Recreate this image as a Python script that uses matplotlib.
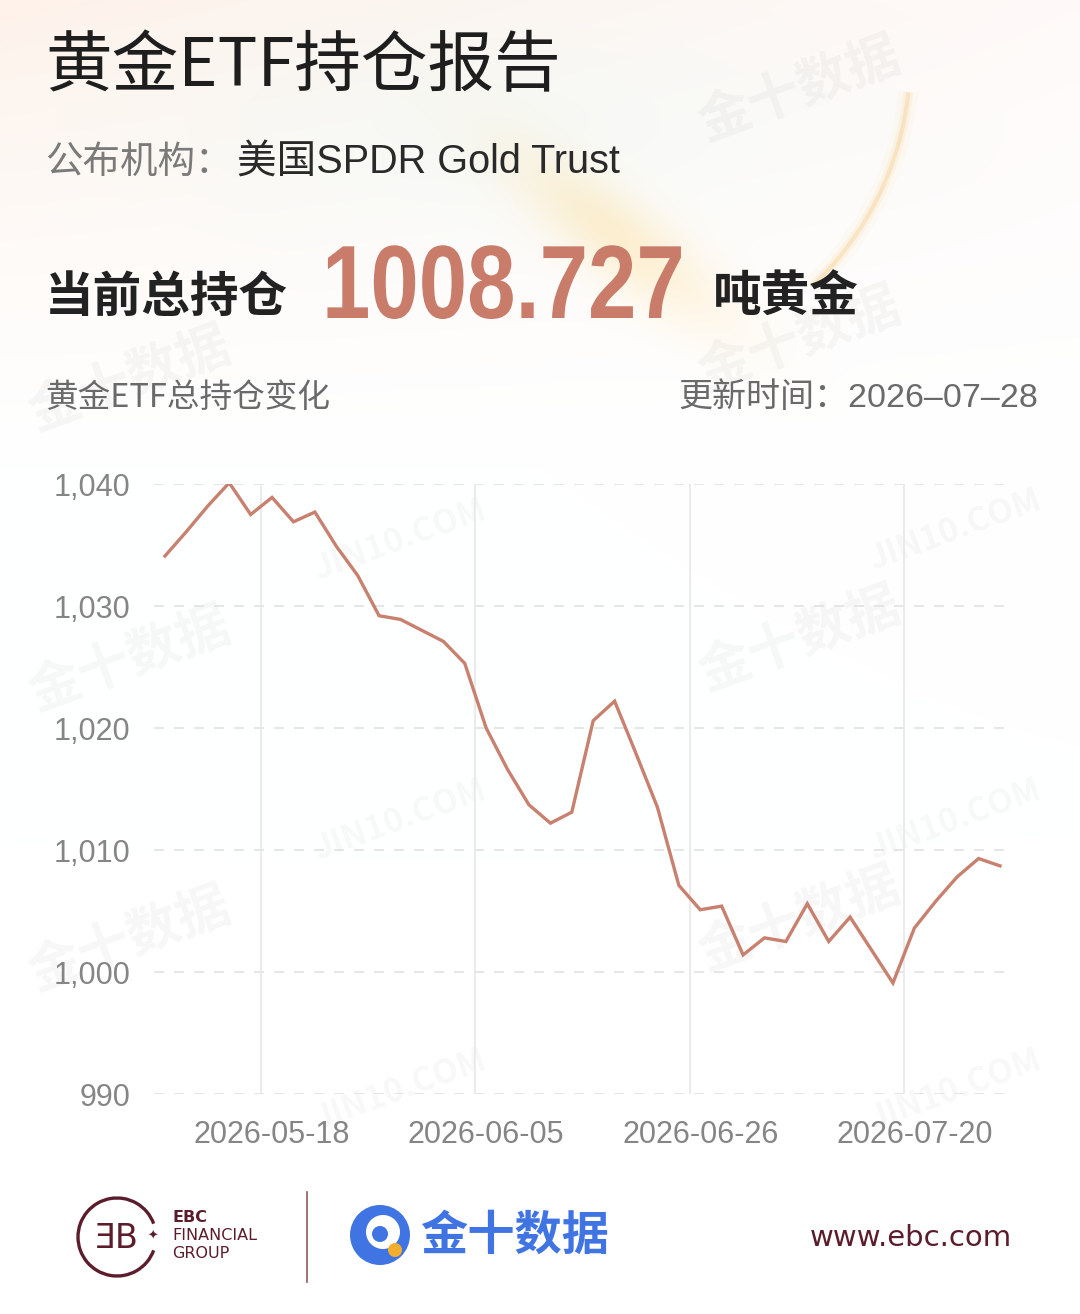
import numpy as np
import matplotlib
matplotlib.use('Agg')
import matplotlib.pyplot as plt
from matplotlib import patheffects
from matplotlib.transforms import Affine2D
from matplotlib.patches import Circle, Arc, Ellipse
from matplotlib.ticker import FuncFormatter

plt.rcParams['font.family'] = ['Noto Sans CJK SC', 'DejaVu Sans']

# SPDR Gold Trust holdings (tonnes)
holdings = [1034.1, 1036.1, 1038.2, 1040.1, 1037.5, 1038.9, 1036.9, 1037.7, 1034.9, 1032.5,
            1029.2, 1028.9, 1028.0, 1027.1, 1025.3, 1020.0, 1016.6, 1013.7, 1012.2, 1013.1,
            1020.6, 1022.2, 1017.9, 1013.5, 1007.1, 1005.1, 1005.4, 1001.4, 1002.8, 1002.5,
            1005.6, 1002.5, 1004.5, 1001.8, 999.1, 1003.6, 1005.8, 1007.8, 1009.3, 1008.7]
tick_idx = [5, 15, 25, 35]
tick_labels = ['2026-05-18', '2026-06-05', '2026-06-26', '2026-07-20']
y_ticks = [990, 1000, 1010, 1020, 1030, 1040]

current_total = '1008.727'
update_date = '2026–07–28'

W, H = 1080, 1314
line_color = '#c8806f'
grey = '#858585'
maroon = '#5b1d2b'
blue = '#3f74e2'
latin = ['Liberation Sans', 'Noto Sans CJK SC', 'DejaVu Sans']


def fx(x):
    return x / W


def fy(y):
    return 1 - y / H


class Squeeze(patheffects.AbstractPathEffect):
    # narrows the glyphs horizontally around x0 (pixels), no condensed font is installed
    def __init__(self, sx, x0):
        super().__init__()
        self.sx = sx
        self.x0 = x0

    def draw_path(self, renderer, gc, tpath, affine, rgbFace=None):
        t = affine + Affine2D().translate(-self.x0, 0).scale(self.sx, 1).translate(self.x0, 0)
        renderer.draw_path(gc, tpath, t, rgbFace)


fig = plt.figure(figsize=(W / 100, H / 100), dpi=100)
fig.patch.set_facecolor('white')

# soft background in the header
bg = fig.add_axes([0, 0, 1, 1], zorder=0)
bg.set_xlim(0, W)
bg.set_ylim(H, 0)
bg.axis('off')
yy, xx = np.mgrid[0:H:2, 0:W:2]
warm = np.clip(1 - yy / 470, 0, 1) ** 1.3
img = np.ones((yy.shape[0], yy.shape[1], 4))
img[..., 1] = 1 - 0.05 * warm * (1 - 0.6 * xx / W)
img[..., 2] = 1 - 0.08 * warm * (1 - 0.7 * xx / W)
cool = np.exp(-((xx - 480) ** 2 / 2 / 260 ** 2 + (yy - 120) ** 2 / 2 / 90 ** 2))
img[..., 0] -= 0.03 * cool
gold = np.exp(-(((xx - 615) * 0.79 + (yy - 235) * 0.62) ** 2 / 2 / 95 ** 2
                + ((xx - 615) * -0.62 + (yy - 235) * 0.79) ** 2 / 2 / 28 ** 2))
img[..., 1] -= 0.05 * gold
img[..., 2] -= 0.16 * gold
bg.imshow(np.clip(img, 0, 1), extent=[0, W, H, 0], aspect='auto', zorder=0)
for lw, a in [(14, 0.05), (7, 0.1), (3, 0.28)]:
    bg.add_patch(Arc((600, 60), 620, 620, theta1=6, theta2=47, color='#f5c26b', lw=lw, alpha=a))

# faint watermarks
for x, y in [(130, 380), (130, 660), (130, 940), (800, 90), (800, 340), (800, 640), (800, 920)]:
    bg.text(x, y, '金十数据', fontsize=38, fontweight='bold', color='#000000', alpha=0.035,
            rotation=20, ha='center', va='center')
for x, y in [(400, 540), (400, 820), (400, 1090), (955, 530), (955, 820), (955, 1090)]:
    bg.text(x, y, 'JIN10.COM', fontsize=24, fontweight='bold', color='#000000', alpha=0.03,
            rotation=20, ha='center', va='center')

# header texts
fig.text(fx(45), fy(67), '黄金ETF持仓报告', fontsize=48, color='#1e1e1e', va='center', ha='left')
fig.text(fx(45), fy(162), '公布机构：', fontsize=27, color='#7a7a7a', va='center', ha='left')
fig.text(fx(237), fy(162), '美国SPDR Gold Trust', fontsize=28.5, color='#2a2a2a', va='center',
         ha='left', family=latin)
fig.text(fx(45), fy(297), '当前总持仓', fontsize=35, fontweight='bold', color='#222222',
         va='center', ha='left')
fig.text(fx(322), fy(318), current_total, fontsize=75, fontweight='bold', color='#c97c69',
         va='baseline', ha='left', family=['Liberation Sans', 'DejaVu Sans'],
         path_effects=[Squeeze(0.835, 322)])
fig.text(fx(713), fy(297), '吨黄金', fontsize=35, fontweight='bold', color='#222222',
         va='center', ha='left')
fig.text(fx(45), fy(398), '黄金ETF总持仓变化', fontsize=23.5, color='#6a6a6a', va='center', ha='left')
fig.text(fx(1038), fy(398), '更新时间：' + update_date, fontsize=24.5, color='#6a6a6a',
         va='center', ha='right', family=latin)

# chart
ax = fig.add_axes([fx(154.3), fy(1094), (1010.7 - 154.3) / W, (1094 - 484) / H], zorder=2)
ax.patch.set_alpha(0)
x = np.arange(len(holdings))
ax.plot(x, holdings, color=line_color, lw=2.4, solid_joinstyle='miter', zorder=3)
ax.set_xlim(-0.5, len(holdings) - 0.5)
ax.set_ylim(y_ticks[0], y_ticks[-1])
ax.set_yticks(y_ticks)
ax.yaxis.set_major_formatter(FuncFormatter(lambda v, p: f'{int(v):,}'))
ax.set_xticks(tick_idx)
ax.set_xticklabels(tick_labels)
for yv in y_ticks:
    ax.axhline(yv, color='#e2e2e2', lw=1.2, ls=(0, (6, 6)), zorder=1)
for i in tick_idx:
    ax.axvline(i - 0.5, color='#e8e8e8', lw=1.2, zorder=1)
ax.axvline(len(holdings) - 0.5 + 0.05, color='#ececec', lw=1.2, zorder=1)
for s in ax.spines.values():
    s.set_visible(False)
ax.tick_params(axis='y', length=0, pad=17, labelsize=22, labelcolor=grey)
ax.tick_params(axis='x', length=0, pad=19, labelsize=22, labelcolor=grey)
for lab in ax.get_xticklabels() + ax.get_yticklabels():
    lab.set_family(latin)

# footer
ft = fig.add_axes([0, 0, 1, 1], zorder=3)
ft.set_xlim(0, W)
ft.set_ylim(H, 0)
ft.axis('off')
ft.add_patch(Arc((117, 1237), 78, 78, theta1=20, theta2=340, color=maroon, lw=2.4))
ft.text(117, 1238, 'ƎB', fontsize=24, color=maroon, ha='center', va='center', family='DejaVu Sans')
ft.text(153, 1236, '✦', fontsize=9, color=maroon, ha='center', va='center', family='DejaVu Sans')
ft.text(172, 1217, 'EBC', fontsize=11.5, fontweight='bold', color=maroon, ha='left', va='center',
        family='DejaVu Sans')
ft.text(172, 1235, 'FINANCIAL', fontsize=11.5, color=maroon, ha='left', va='center', family='DejaVu Sans')
ft.text(172, 1253, 'GROUP', fontsize=11.5, color=maroon, ha='left', va='center', family='DejaVu Sans')
ft.plot([307, 307], [1192, 1282], color='#8a5a62', lw=1.2)
ft.add_patch(Circle((380, 1235), 30, color=blue, lw=0))
ft.add_patch(Circle((383, 1232), 17, color='white', lw=0))
ft.add_patch(Circle((380, 1234), 8, color=blue, lw=0))
ft.add_patch(Circle((395, 1250), 7, color='#f3ad2f', lw=0))
ft.text(420, 1236, '金十数据', fontsize=34, fontweight='bold', color=blue, ha='left', va='center')
ft.text(1012, 1238, 'www.ebc.com', fontsize=21, color=maroon, ha='right', va='center', family='DejaVu Sans')

fig.savefig('out.png', dpi=100, facecolor='white')
